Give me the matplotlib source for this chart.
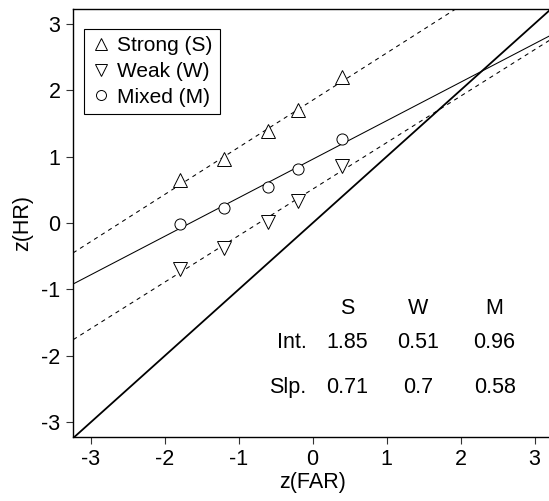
import numpy as np
import matplotlib.pyplot as plt

plt.rcParams['font.family'] = ['Liberation Sans', 'DejaVu Sans']
plt.rcParams['axes.unicode_minus'] = False

# valores
far = [-1.8, -1.2, -0.6, -0.2, 0.4]
hr_strong = [0.65, 0.97, 1.38, 1.70, 2.20]
hr_weak = [-0.69, -0.38, 0.01, 0.33, 0.86]
hr_mixed = [-0.01, 0.23, 0.55, 0.82, 1.26]

grupos = ['S', 'W', 'M']
intercepto = [1.85, 0.51, 0.96]
pendiente = [0.71, 0.7, 0.58]

fs = 15.5

fig = plt.figure(figsize=(5.49, 5.01), dpi=100)
ax = fig.add_axes([0.133, 0.128, 0.873, 0.855])

xs = np.array([-4.0, 4.0])
# diagonal de azar
ax.plot(xs, xs, color='black', lw=1.3)
# rectas ajustadas
ax.plot(xs, intercepto[0] + pendiente[0] * xs, color='black', lw=0.75, ls=(0, (4, 4)))
ax.plot(xs, intercepto[1] + pendiente[1] * xs, color='black', lw=0.75, ls=(0, (4, 4)))
ax.plot(xs, intercepto[2] + pendiente[2] * xs, color='black', lw=0.75)

ax.plot(far, hr_strong, '^', mfc='white', mec='black', mew=0.7, ms=9.5, ls='none', label='Strong (S)')
ax.plot(far, hr_weak, 'v', mfc='white', mec='black', mew=0.7, ms=9.5, ls='none', label='Weak (W)')
ax.plot(far, hr_mixed, 'o', mfc='white', mec='black', mew=0.7, ms=8, ls='none', label='Mixed (M)')

ax.set_xlim(-3.24, 3.24)
ax.set_ylim(-3.22, 3.23)
ax.set_xticks(range(-3, 4))
ax.set_yticks(range(-3, 4))
ax.tick_params(direction='out', length=5, width=0.8, labelsize=fs, color='#333333', pad=4)
ax.set_xlabel('z(FAR)', fontsize=fs, labelpad=1)
ax.set_ylabel('z(HR)', fontsize=fs, labelpad=6)
for s in ax.spines.values():
    s.set_linewidth(1.0)

# tabla de interceptos y pendientes
col_x = [0.47, 1.43, 2.46]
for i in range(3):
    ax.text(col_x[i], -1.29, grupos[i], ha='center', va='center', fontsize=fs)
    ax.text(col_x[i], -1.80, str(intercepto[i]), ha='center', va='center', fontsize=fs)
    ax.text(col_x[i], -2.48, str(pendiente[i]), ha='center', va='center', fontsize=fs)
ax.text(-0.08, -1.80, 'Int.', ha='right', va='center', fontsize=fs)
ax.text(-0.08, -2.48, 'Slp.', ha='right', va='center', fontsize=fs)

leg = ax.legend(loc='upper left', bbox_to_anchor=(0.022, 0.952), fontsize=15,
                frameon=True, fancybox=False, edgecolor='black', framealpha=1,
                handletextpad=0.25, borderpad=0.35, labelspacing=0.32, handlelength=1.0,
                markerscale=0.9, borderaxespad=0)
leg.get_frame().set_linewidth(0.8)

fig.savefig('out.png', dpi=100)
